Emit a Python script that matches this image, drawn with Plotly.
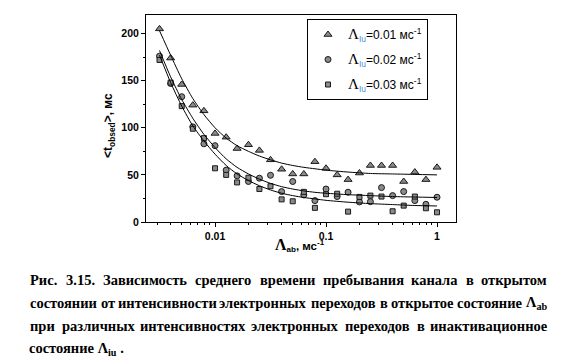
import plotly.graph_objects as go

# ---------------- data ----------------
lambda_ab = [0.00316, 0.00398, 0.00501, 0.00631, 0.00794, 0.01, 0.0126, 0.0158, 0.02, 0.0251,
             0.0316, 0.0398, 0.0501, 0.0631, 0.0794, 0.1, 0.126, 0.158, 0.2, 0.251,
             0.316, 0.398, 0.501, 0.631, 0.794, 1.0]
tau_iu_001 = [205, 174, 146, 124, 118, 94, 90, 78, 82, 76, 66, 56, 51, 51, 64, 57, 50, 45, 52, 60,
              60, 60, 43, 53, 45, 58]
tau_iu_002 = [176, 147, 133, 101, 83, 81, 55, 49, 43, 46.5, 49.6, 32.3, 43, 28.7, 22.7, 35, 27, 31.6,
              21.3, 21.6, 36.5, 28, 32.3, 22.7, 18.8, 26.3]
tau_iu_003 = [172, 148, 123, 99, 89, 57, 50, 42, 47, 35, 38, 24, 22, 32, 15, 29.5, 30, 11, 26.6, 28,
              27, 11.4, 17.4, 27, 14.6, 10.3]

fit_x = [0.00316, 0.00398, 0.00501, 0.00631, 0.00794, 0.01, 0.0126, 0.0158, 0.02, 0.0251, 0.0316,
         0.0398, 0.0501, 0.0631, 0.0794, 0.1, 0.158, 0.251, 0.398, 0.631, 1.0]
fit_001 = [203, 177, 152, 131, 114, 100, 89, 81, 75, 70, 66, 62.5, 60, 58, 56.5, 55, 53, 51.5, 51, 50.5, 50]
fit_002 = [182, 154, 130, 110, 93, 79, 67, 58, 51, 45.5, 41, 37.5, 35, 33, 31.5, 30.5, 29, 28, 27, 26.5, 26]
fit_003 = [177, 148, 123, 102, 86, 72, 60, 51, 44, 38.5, 34, 30.5, 28, 26, 24.5, 23, 21, 19.5, 18.5, 17.5, 17]

series_names = [
    "<span style='font-family:Liberation Serif;font-size:15px'>Λ</span><sub><span style='color:#4a8fd6'>Iu</span></sub>=0.01 мс<sup>-1</sup>",
    "<span style='font-family:Liberation Serif;font-size:15px'>Λ</span><sub><span style='color:#4a8fd6'>Iu</span></sub>=0.02 мс<sup>-1</sup>",
    "<span style='font-family:Liberation Serif;font-size:15px'>Λ</span><sub><span style='color:#4a8fd6'>Iu</span></sub>=0.03 мс<sup>-1</sup>",
]
x_tick_vals = [0.01, 0.1, 1]
x_tick_text = ["0.01", "0.1", "1"]
y_tick_vals = [0, 50, 100, 150, 200]

caption_lines = [
    "Рис. 3.15. Зависимость среднего времени пребывания канала в открытом",
    "состоянии от интенсивности электронных переходов в открытое состояние Λ<sub>ab</sub>",
    "при различных интенсивностях электронных переходов в инактивационное",
    "состояние Λ<sub>iu</sub> .",
]

# ---------------- layout helpers ----------------
W, H = 576, 364
L, R, T, B = 146, 456, 15, 222


def px_x(x):
    return (x - L) / (R - L)


def px_y(y):
    return (B - y) / (B - T)


fig = go.Figure()

marker_line = dict(color="#1a1a1a", width=1)
symbols = ["triangle-up", "circle", "square"]
sizes = [7, 6, 5]
for k, (name, ys, sym, sz) in enumerate(zip(series_names, [tau_iu_001, tau_iu_002, tau_iu_003], symbols, sizes)):
    fig.add_trace(go.Scatter(
        x=lambda_ab, y=ys, mode="markers", name=name, legendgroup=f"g{k}",
        marker=dict(symbol=sym, size=sz, color="#8a8a8a", line=marker_line),
    ))

for fy in [fit_001, fit_002, fit_003]:
    fig.add_trace(go.Scatter(
        x=fit_x, y=fy, mode="lines", showlegend=False,
        line=dict(color="black", width=1, shape="spline", smoothing=0.6),
        hoverinfo="skip",
    ))

axis_font = dict(family="Liberation Sans", size=10.5, color="black", weight="bold")

fig.update_xaxes(
    type="log", range=[-2.622, 0.171],
    tickvals=x_tick_vals, ticktext=x_tick_text,
    ticks="outside", ticklen=4, tickwidth=1, tickcolor="black",
    minor=dict(ticks="outside", ticklen=2, tickcolor="black", dtick="D1", showgrid=False),
    showline=True, linecolor="black", linewidth=1, mirror=True,
    showgrid=False, zeroline=False, tickfont=axis_font,
)
fig.update_yaxes(
    range=[0, 219.7],
    tickvals=y_tick_vals,
    ticks="outside", ticklen=4, tickwidth=1, tickcolor="black",
    minor=dict(ticks="outside", ticklen=2, tickcolor="black", dtick=25, showgrid=False),
    showline=True, linecolor="black", linewidth=1, mirror=True,
    showgrid=False, zeroline=False, tickfont=axis_font,
)

annotations = []
# x-axis title
annotations.append(dict(
    x=px_x(300), y=px_y(245), xref="paper", yref="paper", showarrow=False,
    xanchor="center", yanchor="middle",
    text="<span style='font-family:Liberation Serif;font-size:16px'>Λ</span><sub>ab</sub>, мс<sup>-1</sup>",
    font=dict(family="Liberation Sans", size=11.5, color="black", weight="bold"),
))
# y-axis title
annotations.append(dict(
    x=px_x(109), y=px_y(126), xref="paper", yref="paper", showarrow=False,
    xanchor="center", yanchor="middle", textangle=-90,
    text="&lt;t<sub>obsed</sub>&gt;, мс",
    font=dict(family="Liberation Sans", size=12, color="black", weight="bold"),
))

# ---------------- caption (justified by word placement) ----------------
CW = {
    'а': .50, 'б': .50, 'в': .49, 'г': .43, 'д': .52, 'е': .44, 'ж': .78, 'з': .43, 'и': .57, 'й': .57,
    'к': .55, 'л': .55, 'м': .68, 'н': .57, 'о': .50, 'п': .57, 'р': .56, 'с': .44, 'т': .47, 'у': .50,
    'ф': .70, 'х': .50, 'ц': .57, 'ч': .55, 'ш': .82, 'щ': .82, 'ъ': .58, 'ы': .76, 'ь': .52, 'э': .44,
    'ю': .76, 'я': .52, 'Р': .61, 'З': .55, '.': .25, 'Λ': .72,
}
CW_SCALE = 1.0
cap_fs = 14.5
cap_left, cap_right = 30, 547
cap_y = [280, 303, 326, 349]
cap_font = dict(family="Liberation Serif", size=cap_fs, color="black", weight="bold")


def wwidth(w):
    if "<sub>" in w:
        base = w.split("<sub>")[0]
        sub = w.split("<sub>")[1].split("</sub>")[0]
        wd = sum(CW.get(c, .5) for c in base) * cap_fs + sum(CW.get(c, .5) for c in sub) * cap_fs * 0.7
    else:
        wd = sum(CW.get(c, .5) for c in w) * cap_fs
    return wd * CW_SCALE


for i, line in enumerate(caption_lines):
    words = line.split(" ")
    if i < 3:
        widths = [wwidth(w) for w in words]
        gap = (cap_right - cap_left - sum(widths)) / (len(words) - 1)
        xpos = cap_left
        for w, wd in zip(words, widths):
            annotations.append(dict(
                x=px_x(xpos + wd / 2), y=px_y(cap_y[i]), xref="paper", yref="paper",
                showarrow=False, xanchor="center", yanchor="middle", text=w, font=cap_font,
            ))
            xpos += wd + gap
    else:
        annotations.append(dict(
            x=px_x(cap_left - 3), y=px_y(cap_y[i]), xref="paper", yref="paper",
            showarrow=False, xanchor="left", yanchor="middle", text=line, font=cap_font,
        ))

fig.update_layout(
    width=W, height=H,
    margin=dict(l=L, r=W - R, t=T, b=H - B, pad=0),
    paper_bgcolor="white", plot_bgcolor="white",
    showlegend=True,
    legend=dict(
        x=px_x(307), y=px_y(19), xanchor="left", yanchor="top",
        bgcolor="white", bordercolor="black", borderwidth=1,
        font=dict(family="Liberation Sans", size=12, color="black"),
        itemwidth=30, tracegroupgap=6,
    ),
    annotations=annotations,
)

fig.write_html(
    "out.html",
    config={"displayModeBar": False},
    post_script="document.body.style.margin='0';document.body.style.padding='0';",
)
